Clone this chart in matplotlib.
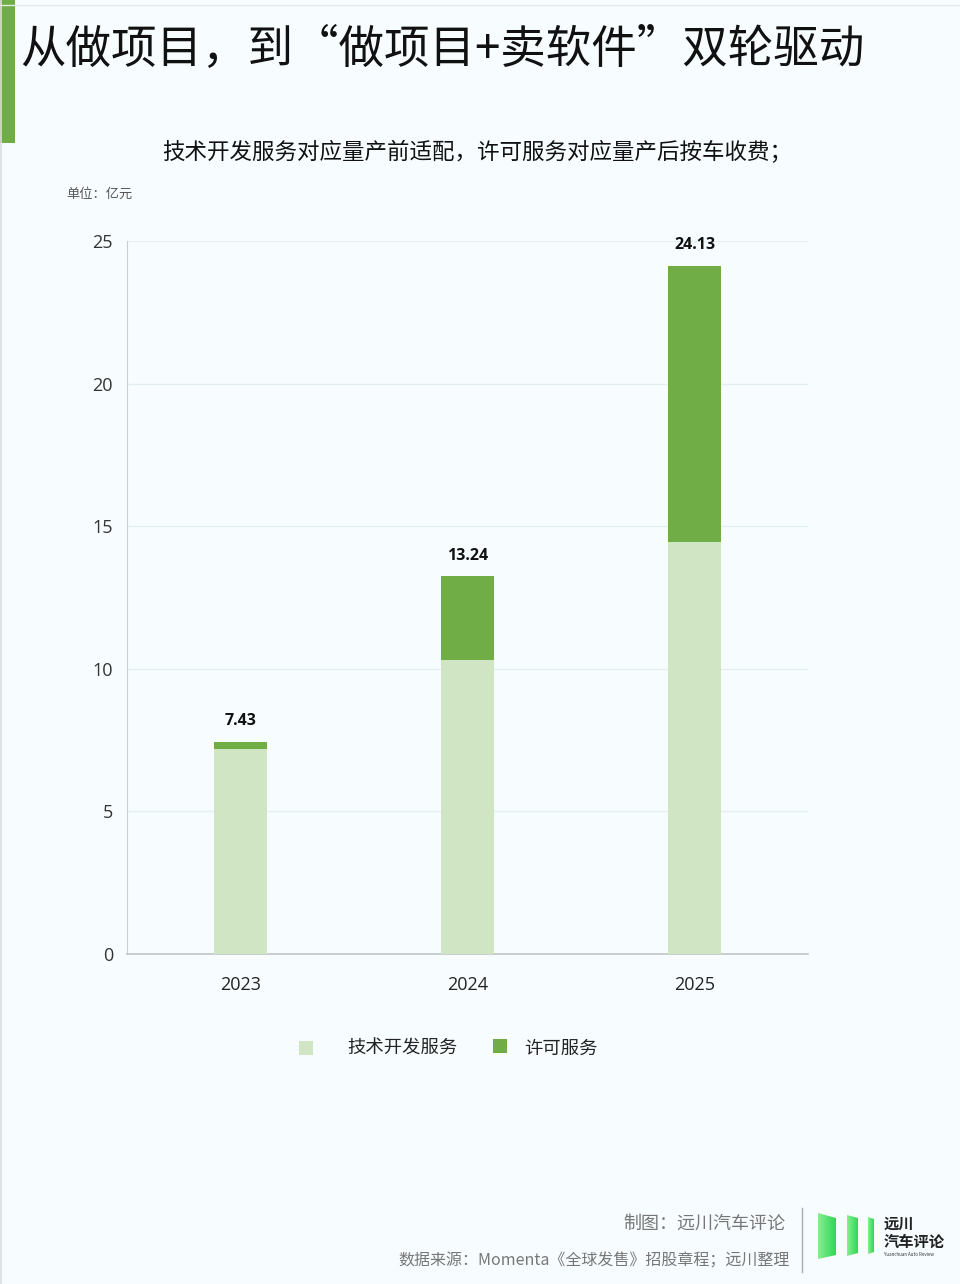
import matplotlib
matplotlib.use("Agg")
import matplotlib.pyplot as plt
import numpy as np
from matplotlib.patches import Rectangle, Polygon
from matplotlib.lines import Line2D
from matplotlib.colors import LinearSegmentedColormap

plt.rcParams['font.family'] = ['Noto Sans CJK SC', 'DejaVu Sans']

# ---- data ----
years = ["2023", "2024", "2025"]
tech_dev = [7.20, 10.31, 14.46]
license_fee = [0.23, 2.93, 9.67]
totals = ["7.43", "13.24", "24.13"]
y_ticks = [0, 5, 10, 15, 20, 25]

title = "从做项目，到“做项目+卖软件”双轮驱动"
subtitle = "技术开发服务对应量产前适配，许可服务对应量产后按车收费；"
unit = "单位：亿元"
legend_labels = ["技术开发服务", "许可服务"]
credit = "制图：远川汽车评论"
source = "数据来源：Momenta《全球发售》招股章程；远川整理"

BG = "#F7FDFE"
C_LIGHT = "#D0E5C3"
C_DARK = "#70AD47"
NUM_FONT = ['Open Sans', 'DejaVu Sans']

W, H = 960, 1284
fig = plt.figure(figsize=(W / 100, H / 100), dpi=100, facecolor=BG)

def fx(px):
    return px / W

def fy(py):
    return 1 - py / H

# decorations
fig.add_artist(Rectangle((0, fy(143)), fx(15), 143 / H, transform=fig.transFigure,
                         facecolor=C_DARK, edgecolor="none"))
fig.add_artist(Line2D([fx(0.8), fx(0.8)], [0, 1], transform=fig.transFigure, color="#DDDDDD", lw=1.2))
fig.add_artist(Line2D([0, 1], [fy(5), fy(5)], transform=fig.transFigure, color="#E3E8E8", lw=1))

fig.text(fx(20), fy(50), title, fontsize=32.8, color="#111111", va="center", ha="left")
fig.text(fx(162), fy(153), subtitle, fontsize=16.2, color="#111111", va="center", ha="left")
fig.text(fx(66), fy(194), unit, fontsize=9.5, color="#555555", va="center", ha="left")

# main axes
ax = fig.add_axes([fx(127), fy(954), fx(808) - fx(127), (954 - 241) / H])
ax.set_facecolor(BG)
x = np.arange(len(years))
bw = 0.23
ax.bar(x, tech_dev, width=bw, color=C_LIGHT, edgecolor="none", zorder=3)
ax.bar(x, license_fee, width=bw, bottom=tech_dev, color=C_DARK, edgecolor="none", zorder=3)
for i, t in enumerate(totals):
    top = tech_dev[i] + license_fee[i]
    ax.text(x[i], top + 0.45, t, ha="center", va="bottom", fontsize=11.5, fontweight="bold",
            color="#111111", family=NUM_FONT)
ax.set_xlim(-0.5, len(years) - 0.5)
ax.set_ylim(0, 25)
ax.set_yticks(y_ticks)
ax.set_yticklabels([str(v) for v in y_ticks], family=NUM_FONT)
ax.set_xticks(x)
ax.set_xticklabels(years, family=NUM_FONT)
ax.tick_params(axis="y", length=0, pad=10, labelsize=13, labelcolor="#333333")
ax.tick_params(axis="x", length=0, pad=16, labelsize=13, labelcolor="#222222")
ax.grid(axis="y", color="#E6EFEF", lw=1, zorder=0)
for s in ["top", "right"]:
    ax.spines[s].set_visible(False)
ax.spines["left"].set_color("#C8D0D0")
ax.spines["bottom"].set_color("#C0C6C6")
ax.spines["bottom"].set_linewidth(1.2)

# legend
fig.add_artist(Rectangle((fx(299), fy(1055)), fx(14), 14 / H, transform=fig.transFigure,
                         facecolor=C_LIGHT, edgecolor="none"))
fig.text(fx(347), fy(1049), legend_labels[0], fontsize=13.2, color="#222222", va="center", ha="left")
fig.add_artist(Rectangle((fx(493), fy(1053)), fx(14), 14 / H, transform=fig.transFigure,
                         facecolor=C_DARK, edgecolor="none"))
fig.text(fx(524), fy(1049), legend_labels[1], fontsize=13.2, color="#222222", va="center", ha="left")

# footer
fig.text(fx(785), fy(1224), credit, fontsize=13, color="#777777", va="center", ha="right")
fig.text(fx(790), fy(1261), source, fontsize=11.5, color="#777777", va="center", ha="right")
fig.add_artist(Line2D([fx(802), fx(802)], [fy(1208), fy(1272)], transform=fig.transFigure,
                      color="#AAAAAA", lw=1))

# logo with gradient
lax = fig.add_axes([fx(815), fy(1262), fx(62), 52 / H])
lax.set_xlim(815, 877)
lax.set_ylim(1262, 1210)
lax.axis("off")
grad = np.linspace(0, 1, 100).reshape(1, -1)
cmap = LinearSegmentedColormap.from_list("g", ["#86F08C", "#2FD65A"])
shapes = [
    [(818, 1213), (836, 1218), (836, 1255), (818, 1259)],
    [(847, 1215), (858, 1218), (858, 1253), (847, 1256)],
    [(868, 1217), (874, 1219), (874, 1252), (868, 1254)],
]
for pts in shapes:
    poly = Polygon(pts, closed=True, facecolor="none", edgecolor="none")
    lax.add_patch(poly)
    xs = [p[0] for p in pts]
    im = lax.imshow(grad, cmap=cmap, extent=[min(xs), max(xs), 1262, 1210], aspect="auto")
    im.set_clip_path(poly)

fig.text(fx(884), fy(1224), "远川", fontsize=11, fontweight="bold", color="#222222", va="center", ha="left")
fig.text(fx(884), fy(1242), "汽车评论", fontsize=11, fontweight="bold", color="#222222", va="center", ha="left")
fig.text(fx(884), fy(1255), "Yuanchuan Auto Review", fontsize=3.2, color="#333333", va="center", ha="left")

fig.savefig("out.png", dpi=100, facecolor=BG)
